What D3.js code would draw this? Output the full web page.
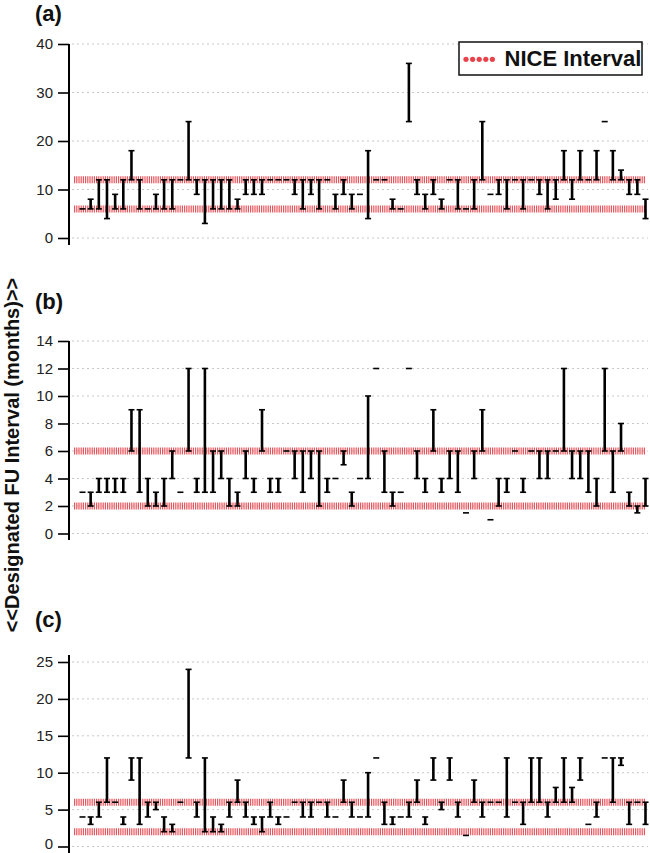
<!DOCTYPE html>
<html><head><meta charset="utf-8">
<script src="https://cdn.jsdelivr.net/npm/d3@7"></script>
<style>body{margin:0;background:#fff} svg{display:block}</style>
</head><body>
<svg id="chart" width="650" height="853"></svg>
<script>
// ---------- data ----------
const patients = d3.range(1, 71);

const aLo = [6,6,6,4,6,6,12,6,6,6, 6,6,12,12,9,3,6,6,6,6, 9,9,9,12,12,12,9,6,9,6, 12,6,9,6,9,4,12,12,6,6, 24,9,6,9,6,12,6,6,6,12, 9,9,6,12,6,12,9,6,8,12, 8,12,12,12,24,12,12,9,9,4];
const aHi = [6,8,12,12,9,12,18,12,6,9, 12,12,12,24,12,12,12,12,12,8, 12,12,12,12,12,12,12,12,12,12, 12,9,12,9,9,18,12,12,8,6, 36,12,9,12,8,12,12,6,12,24, 9,12,12,12,12,12,12,12,12,18, 12,18,12,18,24,18,14,12,12,8];

const bLo = [3,2,3,3,3,3,6,3,2,2, 2,4,3,6,3,3,3,4,2,2, 4,3,6,3,3,6,4,3,4,2, 3,4,5,2,4,4,12,3,2,3, 12,4,3,6,3,4,3,1.5,4,6, 1,2,3,6,3,6,4,4,6,6, 4,4,3,2,6,3,6,2,1.5,2];
const bHi = [3,3,4,4,4,4,9,9,4,3, 4,6,3,12,4,12,6,6,4,3, 6,4,9,4,4,6,6,6,6,6, 4,4,6,3,4,10,12,6,3,3, 12,6,4,9,4,6,6,1.5,6,9, 1,4,4,6,4,6,6,6,6,12, 6,6,6,4,12,6,8,3,2,4];

const cLo = [4,3,4,6,6,3,9,3,4,5, 2,2,6,12,4,2,2,2,4,6, 4,3,2,4,3,4,6,4,4,6, 4,4,6,4,4,4,12,3,3,4, 4,6,3,9,5,9,4,1.5,6,4, 6,6,4,6,3,6,6,4,6,6, 6,9,3,4,12,6,11,3,6,3];
const cHi = [4,4,6,12,6,4,12,12,6,6, 4,3,6,24,6,12,4,3,6,9, 6,4,4,6,4,4,6,6,6,6, 6,4,9,6,4,10,12,6,4,4, 6,9,4,12,6,12,6,1.5,9,6, 6,6,12,6,6,12,12,6,8,12, 8,12,3,6,12,12,12,6,6,6];

const ticksA = [0,10,20,30,40];
const ticksB = [0,2,4,6,8,10,12,14];
const ticksC = [0,5,10,15,20,25];

const niceA = [6,12];
const niceB = [2,6];
const niceC = [2,6];

const panelLabels = ["(a)","(b)","(c)"];
const legendLabel = "NICE Interval";
const yTitle = "<<Designated FU Interval (months)>>";

// ---------- layout ----------
const RED = "#e8434b";
const FONT = "Liberation Sans, Arial, sans-serif";
const svg = d3.select("#chart");
const x = d3.scalePoint().domain(patients).range([82.5, 645.5]);
const AXIS_X = 69;

const panels = [
  {label: panelLabels[0], lo: aLo, hi: aHi, ticks: ticksA, nice: niceA, dom: [0,40], rng: [238, 44],   axisTop: 44,  axisBot: 245, labelY: 21, lift0: 0},
  {label: panelLabels[1], lo: bLo, hi: bHi, ticks: ticksB, nice: niceB, dom: [0,14], rng: [533.5, 341], axisTop: 341, axisBot: 540, labelY: 309, lift0: 0},
  {label: panelLabels[2], lo: cLo, hi: cHi, ticks: ticksC, nice: niceC, dom: [0,25], rng: [846.5, 662], axisTop: 655, axisBot: 853, labelY: 627, lift0: 2.5}
];

panels.forEach(p => {
  const y = d3.scaleLinear().domain(p.dom).range(p.rng);
  const g = svg.append("g");

  // grid
  g.selectAll(".grid").data(p.ticks).join("line")
    .attr("x1", AXIS_X + 3).attr("x2", 648)
    .attr("y1", d => y(d)).attr("y2", d => y(d))
    .attr("stroke", "#c8c8c8").attr("stroke-width", 1)
    .attr("stroke-dasharray", "2,3");

  // NICE bands
  g.selectAll(".band").data(p.nice).join("line")
    .attr("x1", 74).attr("x2", 645)
    .attr("y1", d => y(d)).attr("y2", d => y(d))
    .attr("stroke", RED).attr("stroke-width", 7)
    .attr("stroke-dasharray", "1.2,1")
    .attr("opacity", 0.9);

  // axis
  const ax = g.append("g").attr("transform", `translate(${AXIS_X},0)`)
    .call(d3.axisLeft(y).tickValues(p.ticks).tickSize(11).tickPadding(5).tickFormat(d3.format("d")));
  ax.select(".domain").remove();
  ax.selectAll(".tick line").attr("stroke", "#000").attr("stroke-width", 1.6);
  ax.selectAll(".tick text").attr("font-family", FONT)
    .attr("font-size", 15).attr("fill", "#222")
    .attr("y", d => d === 0 ? -p.lift0 : 0);
  g.append("line").attr("x1", AXIS_X).attr("x2", AXIS_X)
    .attr("y1", p.axisTop).attr("y2", p.axisBot)
    .attr("stroke", "#000").attr("stroke-width", 2);

  // range bars
  const data = patients.map((id, i) => ({id, lo: p.lo[i], hi: p.hi[i]}));
  const bars = g.append("g");
  bars.selectAll(".v").data(data.filter(d => d.hi > d.lo)).join("line")
    .attr("x1", d => x(d.id)).attr("x2", d => x(d.id))
    .attr("y1", d => y(d.lo)).attr("y2", d => y(d.hi))
    .attr("stroke", "#000").attr("stroke-width", 2.6);
  const caps = data.flatMap(d => d.hi > d.lo ? [{id: d.id, v: d.lo}, {id: d.id, v: d.hi}] : [{id: d.id, v: d.lo}]);
  bars.selectAll(".cap").data(caps).join("line")
    .attr("x1", d => x(d.id) - 3).attr("x2", d => x(d.id) + 3)
    .attr("y1", d => y(d.v)).attr("y2", d => y(d.v))
    .attr("stroke", "#000").attr("stroke-width", 1.6);

  // panel label
  svg.append("text").attr("x", 35).attr("y", p.labelY)
    .attr("font-family", FONT)
    .attr("font-weight", "bold").attr("font-size", 22).attr("fill", "#111")
    .text(p.label);
});

// y title
svg.append("text")
  .attr("transform", "translate(19,455) rotate(-90)")
  .attr("text-anchor", "middle")
  .attr("font-family", FONT)
  .attr("font-weight", "bold").attr("font-size", 20).attr("fill", "#111")
  .text(yTitle);

// legend
const lg = svg.append("g");
lg.append("rect").attr("x", 459).attr("y", 42).attr("width", 183).attr("height", 33)
  .attr("fill", "#fff").attr("stroke", "#111").attr("stroke-width", 1.5);
lg.selectAll("circle").data(d3.range(5)).join("circle")
  .attr("cx", d => 466 + d * 6.6).attr("cy", 59.3).attr("r", 2.6).attr("fill", RED);
lg.append("text").attr("x", 504.5).attr("y", 66)
  .attr("font-family", FONT)
  .attr("font-weight", "bold").attr("font-size", 22).attr("fill", "#111")
  .text(legendLabel);
</script>
</body></html>
